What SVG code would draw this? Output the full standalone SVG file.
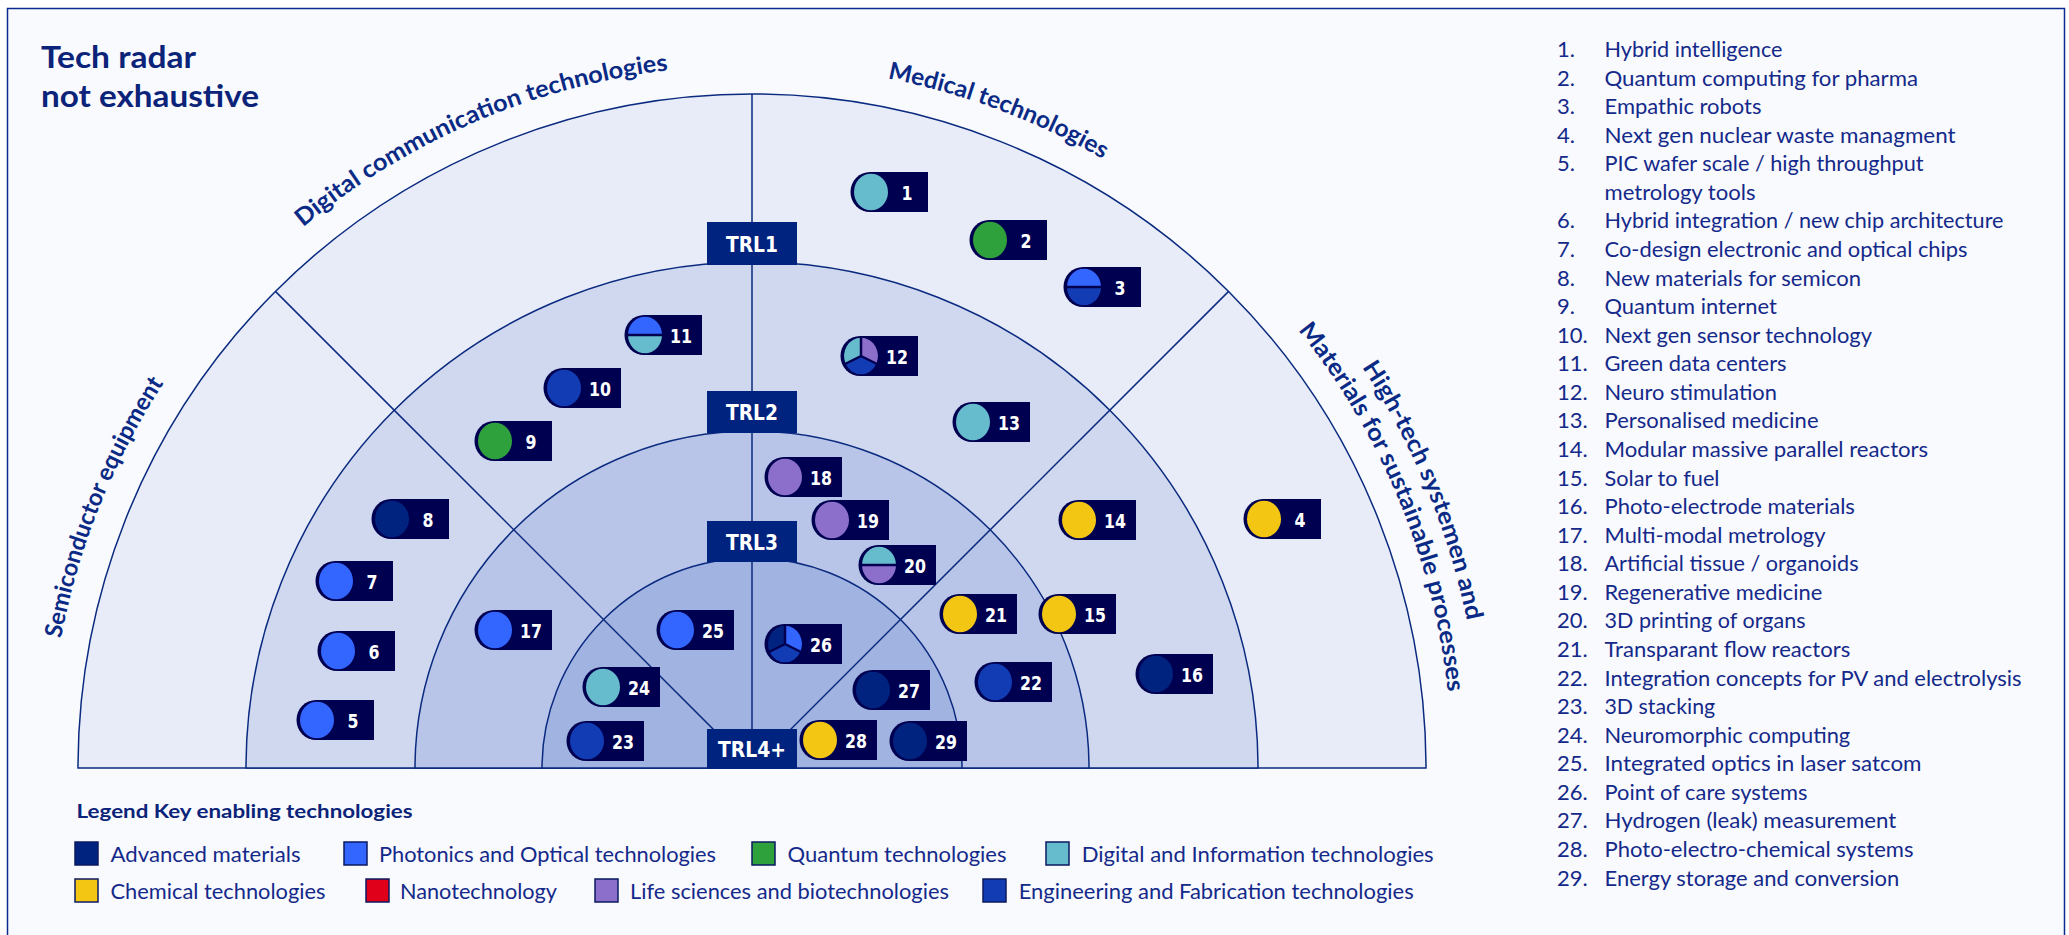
<svg xmlns="http://www.w3.org/2000/svg" xmlns:xlink="http://www.w3.org/1999/xlink" width="2069" height="935" viewBox="0 0 2069 935">
<style>
.ring{stroke:#0A2A7F;stroke-width:1.5}
.div{stroke:#0A2A7F;stroke-width:1.5;fill:none}
.trlbox{fill:#00237F}
.trltxt{font-family:"DejaVu Sans Condensed","DejaVu Sans",sans-serif;font-weight:bold;font-size:22px;fill:#fff;text-anchor:middle}
.num{font-family:"DejaVu Sans Condensed","DejaVu Sans",sans-serif;font-weight:bold;font-size:20px;fill:#fff;text-anchor:middle}
.sect{font-family:Lato,"Open Sans",sans-serif;font-weight:bold;font-size:24px;fill:#0B2A85}
.title{font-family:Lato,"Open Sans",sans-serif;font-weight:bold;font-size:30px;fill:#0B2379}
.lt{font-family:Lato,"Open Sans",sans-serif;font-size:22px;fill:#14298A}
.lg{font-family:Lato,"Open Sans",sans-serif;font-size:21px;fill:#14298A}
.lgh{font-family:Lato,"Open Sans",sans-serif;font-weight:bold;font-size:19px;fill:#0B2379}
.sw{stroke:#0A1A60;stroke-width:1.5}
.sep{stroke:#000050;stroke-width:2.5;fill:none}
.adv{fill:#00237F}.pho{fill:#3366FF}.qua{fill:#2EA03C}.dig{fill:#66BCCC}
.che{fill:#F4C614}.nan{fill:#E0001A}.lif{fill:#8C6FCB}.eng{fill:#123CB4}
</style>
<defs>
<path id="mk" d="M58 -20 H0 A19.5 20 0 0 0 0 20 H58 Z" fill="#000050"/>
<path id="arc703" d="M49 768 A703 703 0 0 1 1455 768"/>
<path id="arc700" d="M52 768 A700 700 0 0 1 1452 768"/>
<path id="arc730" d="M22 768 A730 730 0 0 1 1482 768"/>
</defs>
<rect x="0" y="0" width="2069" height="935" fill="#FFFFFF"/>
<rect x="7.5" y="8.5" width="2057" height="940" fill="#F8FAFD" stroke="#0A2A8F" stroke-width="1.5"/>

<g id="title">
<text class="title" x="41" y="68" textLength="155" lengthAdjust="spacingAndGlyphs">Tech radar</text>
<text class="title" x="41" y="107" textLength="218" lengthAdjust="spacingAndGlyphs">not exhaustive</text>
</g>

<g id="radar">
<path class="ring" fill="#E8ECF8" d="M78 768 A674 674 0 0 1 1426 768 Z"/>
<path class="ring" fill="#D0D8F0" d="M246 768 A506 506 0 0 1 1258 768 Z"/>
<path class="ring" fill="#B9C5E8" d="M415 768 A337 337 0 0 1 1089 768 Z"/>
<path class="ring" fill="#A1B3E0" d="M542 768 A210 210 0 0 1 962 768 Z"/>
</g>

<g id="connectors">
<path class="div" d="M752 768 V94"/>
<path class="div" d="M752 768 L275.4 291.4"/>
<path class="div" d="M752 768 L1228.6 291.4"/>
</g>

<g id="sector-labels">
<text class="sect"><textPath href="#arc703" startOffset="268.7" text-anchor="middle" textLength="277" lengthAdjust="spacingAndGlyphs">Semiconductor equipment</textPath></text>
<text class="sect"><textPath href="#arc703" startOffset="818.4" text-anchor="middle" textLength="403" lengthAdjust="spacingAndGlyphs">Digital communication technologies</textPath></text>
<text class="sect"><textPath href="#arc703" startOffset="1355.8" text-anchor="middle" textLength="231" lengthAdjust="spacingAndGlyphs">Medical technologies</textPath></text>
<text class="sect"><textPath href="#arc730" startOffset="2006.7" text-anchor="middle" textLength="276" lengthAdjust="spacingAndGlyphs">High-tech systemen and</textPath></text>
<text class="sect"><textPath href="#arc700" startOffset="1924.2" text-anchor="middle" textLength="397" lengthAdjust="spacingAndGlyphs">Materials for sustainable processes</textPath></text>
</g>

<g id="trl1"><rect class="trlbox" x="707" y="222" width="90" height="43"/><text class="trltxt" x="752" y="251.5" textLength="52" lengthAdjust="spacingAndGlyphs">TRL1</text></g>
<g id="trl2"><rect class="trlbox" x="707" y="391" width="90" height="42"/><text class="trltxt" x="752" y="420" textLength="52" lengthAdjust="spacingAndGlyphs">TRL2</text></g>
<g id="trl3"><rect class="trlbox" x="707" y="521" width="90" height="41"/><text class="trltxt" x="752" y="549.5" textLength="52" lengthAdjust="spacingAndGlyphs">TRL3</text></g>
<g id="trl4"><rect class="trlbox" x="707" y="729" width="90" height="40"/><text class="trltxt" x="752" y="757" textLength="68" lengthAdjust="spacingAndGlyphs">TRL4+</text></g>

<g id="m1" transform="translate(870,192)"><use href="#mk"/><ellipse class="dig" cx="1" rx="17" ry="18.3"/><text class="num" x="37" y="8" textLength="11" lengthAdjust="spacingAndGlyphs">1</text></g>
<g id="m2" transform="translate(989,240)"><use href="#mk"/><ellipse class="qua" cx="1" rx="17" ry="18.3"/><text class="num" x="37" y="8" textLength="11" lengthAdjust="spacingAndGlyphs">2</text></g>
<g id="m3" transform="translate(1083,287)"><use href="#mk"/><path class="pho" d="M-16 0 A17 18.3 0 0 1 18 0 Z"/><path class="eng" d="M-16 0 A17 18.3 0 0 0 18 0 Z"/><path class="sep" d="M-17 0 H19"/><text class="num" x="37" y="8" textLength="11" lengthAdjust="spacingAndGlyphs">3</text></g>
<g id="m4" transform="translate(1263,519)"><use href="#mk"/><ellipse class="che" cx="1" rx="17" ry="18.3"/><text class="num" x="37" y="8" textLength="11" lengthAdjust="spacingAndGlyphs">4</text></g>
<g id="m5" transform="translate(316,720)"><use href="#mk"/><ellipse class="pho" cx="1" rx="17" ry="18.3"/><text class="num" x="37" y="8" textLength="11" lengthAdjust="spacingAndGlyphs">5</text></g>
<g id="m6" transform="translate(337,651)"><use href="#mk"/><ellipse class="pho" cx="1" rx="17" ry="18.3"/><text class="num" x="37" y="8" textLength="11" lengthAdjust="spacingAndGlyphs">6</text></g>
<g id="m7" transform="translate(335,581)"><use href="#mk"/><ellipse class="pho" cx="1" rx="17" ry="18.3"/><text class="num" x="37" y="8" textLength="11" lengthAdjust="spacingAndGlyphs">7</text></g>
<g id="m8" transform="translate(391,519)"><use href="#mk"/><ellipse class="adv" cx="1" rx="17" ry="18.3"/><text class="num" x="37" y="8" textLength="11" lengthAdjust="spacingAndGlyphs">8</text></g>
<g id="m9" transform="translate(494,441)"><use href="#mk"/><ellipse class="qua" cx="1" rx="17" ry="18.3"/><text class="num" x="37" y="8" textLength="11" lengthAdjust="spacingAndGlyphs">9</text></g>
<g id="m10" transform="translate(563,388)"><use href="#mk"/><ellipse class="eng" cx="1" rx="17" ry="18.3"/><text class="num" x="37" y="8" textLength="22" lengthAdjust="spacingAndGlyphs">10</text></g>
<g id="m11" transform="translate(644,335)"><use href="#mk"/><path class="pho" d="M-16 0 A17 18.3 0 0 1 18 0 Z"/><path class="dig" d="M-16 0 A17 18.3 0 0 0 18 0 Z"/><path class="sep" d="M-17 0 H19"/><text class="num" x="37" y="8" textLength="22" lengthAdjust="spacingAndGlyphs">11</text></g>
<g id="m12" transform="translate(860,356)"><use href="#mk"/><path class="dig" d="M1 0 L1 -18.3 A17 18.3 0 0 0 -14.4 7.7 Z"/><path class="lif" d="M1 0 L1 -18.3 A17 18.3 0 0 1 16.4 7.7 Z"/><path class="eng" d="M1 0 L-14.4 7.7 A17 18.3 0 0 0 16.4 7.7 Z"/><path class="sep" d="M1 -19 V0 L-15 8 M1 0 L17 8"/><text class="num" x="37" y="8" textLength="22" lengthAdjust="spacingAndGlyphs">12</text></g>
<g id="m13" transform="translate(972,422)"><use href="#mk"/><ellipse class="dig" cx="1" rx="17" ry="18.3"/><text class="num" x="37" y="8" textLength="22" lengthAdjust="spacingAndGlyphs">13</text></g>
<g id="m14" transform="translate(1078,520)"><use href="#mk"/><ellipse class="che" cx="1" rx="17" ry="18.3"/><text class="num" x="37" y="8" textLength="22" lengthAdjust="spacingAndGlyphs">14</text></g>
<g id="m15" transform="translate(1058,614)"><use href="#mk"/><ellipse class="che" cx="1" rx="17" ry="18.3"/><text class="num" x="37" y="8" textLength="22" lengthAdjust="spacingAndGlyphs">15</text></g>
<g id="m16" transform="translate(1155,674)"><use href="#mk"/><ellipse class="adv" cx="1" rx="17" ry="18.3"/><text class="num" x="37" y="8" textLength="22" lengthAdjust="spacingAndGlyphs">16</text></g>
<g id="m17" transform="translate(494,630)"><use href="#mk"/><ellipse class="pho" cx="1" rx="17" ry="18.3"/><text class="num" x="37" y="8" textLength="22" lengthAdjust="spacingAndGlyphs">17</text></g>
<g id="m18" transform="translate(784,477)"><use href="#mk"/><ellipse class="lif" cx="1" rx="17" ry="18.3"/><text class="num" x="37" y="8" textLength="22" lengthAdjust="spacingAndGlyphs">18</text></g>
<g id="m19" transform="translate(831,520)"><use href="#mk"/><ellipse class="lif" cx="1" rx="17" ry="18.3"/><text class="num" x="37" y="8" textLength="22" lengthAdjust="spacingAndGlyphs">19</text></g>
<g id="m20" transform="translate(878,565)"><use href="#mk"/><path class="dig" d="M-16 0 A17 18.3 0 0 1 18 0 Z"/><path class="lif" d="M-16 0 A17 18.3 0 0 0 18 0 Z"/><path class="sep" d="M-17 0 H19"/><text class="num" x="37" y="8" textLength="22" lengthAdjust="spacingAndGlyphs">20</text></g>
<g id="m21" transform="translate(959,614)"><use href="#mk"/><ellipse class="che" cx="1" rx="17" ry="18.3"/><text class="num" x="37" y="8" textLength="22" lengthAdjust="spacingAndGlyphs">21</text></g>
<g id="m22" transform="translate(994,682)"><use href="#mk"/><ellipse class="eng" cx="1" rx="17" ry="18.3"/><text class="num" x="37" y="8" textLength="22" lengthAdjust="spacingAndGlyphs">22</text></g>
<g id="m23" transform="translate(586,741)"><use href="#mk"/><ellipse class="eng" cx="1" rx="17" ry="18.3"/><text class="num" x="37" y="8" textLength="22" lengthAdjust="spacingAndGlyphs">23</text></g>
<g id="m24" transform="translate(602,687)"><use href="#mk"/><ellipse class="dig" cx="1" rx="17" ry="18.3"/><text class="num" x="37" y="8" textLength="22" lengthAdjust="spacingAndGlyphs">24</text></g>
<g id="m25" transform="translate(676,630)"><use href="#mk"/><ellipse class="pho" cx="1" rx="17" ry="18.3"/><text class="num" x="37" y="8" textLength="22" lengthAdjust="spacingAndGlyphs">25</text></g>
<g id="m26" transform="translate(784,644)"><use href="#mk"/><path class="adv" d="M1 0 L1 -18.3 A17 18.3 0 0 0 -14.4 7.7 Z"/><path class="pho" d="M1 0 L1 -18.3 A17 18.3 0 0 1 16.4 7.7 Z"/><path class="eng" d="M1 0 L-14.4 7.7 A17 18.3 0 0 0 16.4 7.7 Z"/><path class="sep" d="M1 -19 V0 L-15 8 M1 0 L17 8"/><text class="num" x="37" y="8" textLength="22" lengthAdjust="spacingAndGlyphs">26</text></g>
<g id="m27" transform="translate(872,690)"><use href="#mk"/><ellipse class="adv" cx="1" rx="17" ry="18.3"/><text class="num" x="37" y="8" textLength="22" lengthAdjust="spacingAndGlyphs">27</text></g>
<g id="m28" transform="translate(819,740)"><use href="#mk"/><ellipse class="che" cx="1" rx="17" ry="18.3"/><text class="num" x="37" y="8" textLength="22" lengthAdjust="spacingAndGlyphs">28</text></g>
<g id="m29" transform="translate(909,741)"><use href="#mk"/><ellipse class="adv" cx="1" rx="17" ry="18.3"/><text class="num" x="37" y="8" textLength="22" lengthAdjust="spacingAndGlyphs">29</text></g>

<g id="legend">
<text class="lgh" x="76.6" y="818" textLength="336" lengthAdjust="spacingAndGlyphs">Legend Key enabling technologies</text>
<rect class="sw adv" x="75" y="842" width="23" height="23"/><text class="lg" x="110.5" y="861.5" textLength="190" lengthAdjust="spacingAndGlyphs">Advanced materials</text>
<rect class="sw pho" x="344" y="842" width="23" height="23"/><text class="lg" x="379" y="861.5" textLength="337" lengthAdjust="spacingAndGlyphs">Photonics and Optical technologies</text>
<rect class="sw qua" x="752" y="842" width="23" height="23"/><text class="lg" x="787.5" y="861.5" textLength="219" lengthAdjust="spacingAndGlyphs">Quantum technologies</text>
<rect class="sw dig" x="1046" y="842" width="23" height="23"/><text class="lg" x="1081.7" y="861.5" textLength="352" lengthAdjust="spacingAndGlyphs">Digital and Information technologies</text>
<rect class="sw che" x="75" y="879" width="23" height="23"/><text class="lg" x="110.5" y="899" textLength="215" lengthAdjust="spacingAndGlyphs">Chemical technologies</text>
<rect class="sw nan" x="366" y="879" width="23" height="23"/><text class="lg" x="400" y="899" textLength="157" lengthAdjust="spacingAndGlyphs">Nanotechnology</text>
<rect class="sw lif" x="595" y="879" width="23" height="23"/><text class="lg" x="630" y="899" textLength="319" lengthAdjust="spacingAndGlyphs">Life sciences and biotechnologies</text>
<rect class="sw eng" x="983" y="879" width="23" height="23"/><text class="lg" x="1018.7" y="899" textLength="395" lengthAdjust="spacingAndGlyphs">Engineering and Fabrication technologies</text>
</g>

<g id="list">
<text class="lt" x="1557" y="57">1.</text><text class="lt" x="1604.5" y="57" textLength="178" lengthAdjust="spacingAndGlyphs">Hybrid intelligence</text>
<text class="lt" x="1557" y="85.6">2.</text><text class="lt" x="1604.5" y="85.6" textLength="313.5" lengthAdjust="spacingAndGlyphs">Quantum computing for pharma</text>
<text class="lt" x="1557" y="114.1">3.</text><text class="lt" x="1604.5" y="114.1" textLength="157" lengthAdjust="spacingAndGlyphs">Empathic robots</text>
<text class="lt" x="1557" y="142.7">4.</text><text class="lt" x="1604.5" y="142.7" textLength="351" lengthAdjust="spacingAndGlyphs">Next gen nuclear waste managment</text>
<text class="lt" x="1557" y="171.3">5.</text><text class="lt" x="1604.5" y="171.3" textLength="319" lengthAdjust="spacingAndGlyphs">PIC wafer scale / high throughput</text>
<text class="lt" x="1604.5" y="199.9" textLength="151" lengthAdjust="spacingAndGlyphs">metrology tools</text>
<text class="lt" x="1557" y="228.4">6.</text><text class="lt" x="1604.5" y="228.4" textLength="399" lengthAdjust="spacingAndGlyphs">Hybrid integration / new chip architecture</text>
<text class="lt" x="1557" y="257">7.</text><text class="lt" x="1604.5" y="257" textLength="363" lengthAdjust="spacingAndGlyphs">Co-design electronic and optical chips</text>
<text class="lt" x="1557" y="285.6">8.</text><text class="lt" x="1604.5" y="285.6" textLength="256.6" lengthAdjust="spacingAndGlyphs">New materials for semicon</text>
<text class="lt" x="1557" y="314.1">9.</text><text class="lt" x="1604.5" y="314.1" textLength="172.4" lengthAdjust="spacingAndGlyphs">Quantum internet</text>
<text class="lt" x="1557" y="342.7">10.</text><text class="lt" x="1604.5" y="342.7" textLength="267.5" lengthAdjust="spacingAndGlyphs">Next gen sensor technology</text>
<text class="lt" x="1557" y="371.3">11.</text><text class="lt" x="1604.5" y="371.3" textLength="182" lengthAdjust="spacingAndGlyphs">Green data centers</text>
<text class="lt" x="1557" y="399.8">12.</text><text class="lt" x="1604.5" y="399.8" textLength="172.4" lengthAdjust="spacingAndGlyphs">Neuro stimulation</text>
<text class="lt" x="1557" y="428.4">13.</text><text class="lt" x="1604.5" y="428.4" textLength="214" lengthAdjust="spacingAndGlyphs">Personalised medicine</text>
<text class="lt" x="1557" y="457">14.</text><text class="lt" x="1604.5" y="457" textLength="323.7" lengthAdjust="spacingAndGlyphs">Modular massive parallel reactors</text>
<text class="lt" x="1557" y="485.6">15.</text><text class="lt" x="1604.5" y="485.6" textLength="115" lengthAdjust="spacingAndGlyphs">Solar to fuel</text>
<text class="lt" x="1557" y="514.1">16.</text><text class="lt" x="1604.5" y="514.1" textLength="250.4" lengthAdjust="spacingAndGlyphs">Photo-electrode materials</text>
<text class="lt" x="1557" y="542.7">17.</text><text class="lt" x="1604.5" y="542.7" textLength="221" lengthAdjust="spacingAndGlyphs">Multi-modal metrology</text>
<text class="lt" x="1557" y="571.3">18.</text><text class="lt" x="1604.5" y="571.3" textLength="254" lengthAdjust="spacingAndGlyphs">Artificial tissue / organoids</text>
<text class="lt" x="1557" y="599.8">19.</text><text class="lt" x="1604.5" y="599.8" textLength="217.7" lengthAdjust="spacingAndGlyphs">Regenerative medicine</text>
<text class="lt" x="1557" y="628.4">20.</text><text class="lt" x="1604.5" y="628.4" textLength="201" lengthAdjust="spacingAndGlyphs">3D printing of organs</text>
<text class="lt" x="1557" y="657">21.</text><text class="lt" x="1604.5" y="657" textLength="245.7" lengthAdjust="spacingAndGlyphs">Transparant flow reactors</text>
<text class="lt" x="1557" y="685.5">22.</text><text class="lt" x="1604.5" y="685.5" textLength="417" lengthAdjust="spacingAndGlyphs">Integration concepts for PV and electrolysis</text>
<text class="lt" x="1557" y="714.1">23.</text><text class="lt" x="1604.5" y="714.1" textLength="110.7" lengthAdjust="spacingAndGlyphs">3D stacking</text>
<text class="lt" x="1557" y="742.7">24.</text><text class="lt" x="1604.5" y="742.7" textLength="245.7" lengthAdjust="spacingAndGlyphs">Neuromorphic computing</text>
<text class="lt" x="1557" y="771.3">25.</text><text class="lt" x="1604.5" y="771.3" textLength="317" lengthAdjust="spacingAndGlyphs">Integrated optics in laser satcom</text>
<text class="lt" x="1557" y="799.8">26.</text><text class="lt" x="1604.5" y="799.8" textLength="203" lengthAdjust="spacingAndGlyphs">Point of care systems</text>
<text class="lt" x="1557" y="828.4">27.</text><text class="lt" x="1604.5" y="828.4" textLength="291.8" lengthAdjust="spacingAndGlyphs">Hydrogen (leak) measurement</text>
<text class="lt" x="1557" y="857">28.</text><text class="lt" x="1604.5" y="857" textLength="309" lengthAdjust="spacingAndGlyphs">Photo-electro-chemical systems</text>
<text class="lt" x="1557" y="885.5">29.</text><text class="lt" x="1604.5" y="885.5" textLength="294.7" lengthAdjust="spacingAndGlyphs">Energy storage and conversion</text>
</g>
</svg>
